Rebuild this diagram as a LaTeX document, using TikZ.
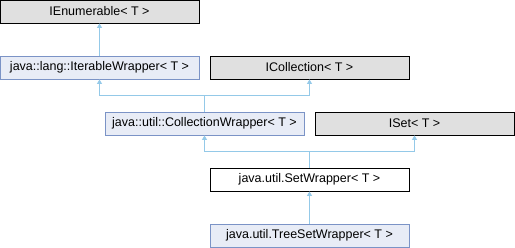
\documentclass[tikz,border=0pt]{standalone}
\usepackage{fontspec}
\setmainfont{Liberation Sans}
\usetikzlibrary{arrows.meta}
\definecolor{edgec}{HTML}{94C9E8}
\definecolor{grayfill}{HTML}{E0E0E0}
\definecolor{bluefill}{HTML}{E8ECF6}
\definecolor{blueline}{HTML}{7B93C6}
\tikzset{
  cls/.style={minimum width=199pt, minimum height=23pt, inner sep=0pt, line width=0.9pt, font=\fontsize{12.5}{14}\selectfont},
  ext/.style={cls, draw=black, fill=grayfill},
  doc/.style={cls, draw=blueline, fill=bluefill},
  cur/.style={cls, draw=black, fill=white},
  edge/.style={draw=edgec, line width=0.9pt, -{Triangle[width=5pt,length=4.5pt]}, rounded corners=0pt}
}
\begin{document}
\begin{tikzpicture}[x=1pt,y=-1pt]
\useasboundingbox (0,0) rectangle (515,248);
\node[ext] (ienum) at (99.5,11.5) {IEnumerable< T >};
\node[doc] (iter) at (99.5,67.5) {java::lang::IterableWrapper< T >};
\node[ext] (icoll) at (309.5,67.5) {ICollection< T >};
\node[doc] (collw) at (204.5,123.5) {java::util::CollectionWrapper< T >};
\node[ext] (iset) at (414.5,123.5) {ISet< T >};
\node[cur] (setw) at (309.5,179.5) {java.util.SetWrapper< T >};
\node[doc] (treew) at (309.5,235.5) {java.util.TreeSetWrapper< T >};
\draw[edge] (iter.north) -- (ienum.south);
\draw[edge] (collw.north) -- ++(0,-16) -| (iter.south);
\draw[edge] (collw.north) -- ++(0,-16) -| (icoll.south);
\draw[edge] (setw.north) -- ++(0,-16) -| (collw.south);
\draw[edge] (setw.north) -- ++(0,-16) -| (iset.south);
\draw[edge] (treew.north) -- (setw.south);
\end{tikzpicture}
\end{document}
